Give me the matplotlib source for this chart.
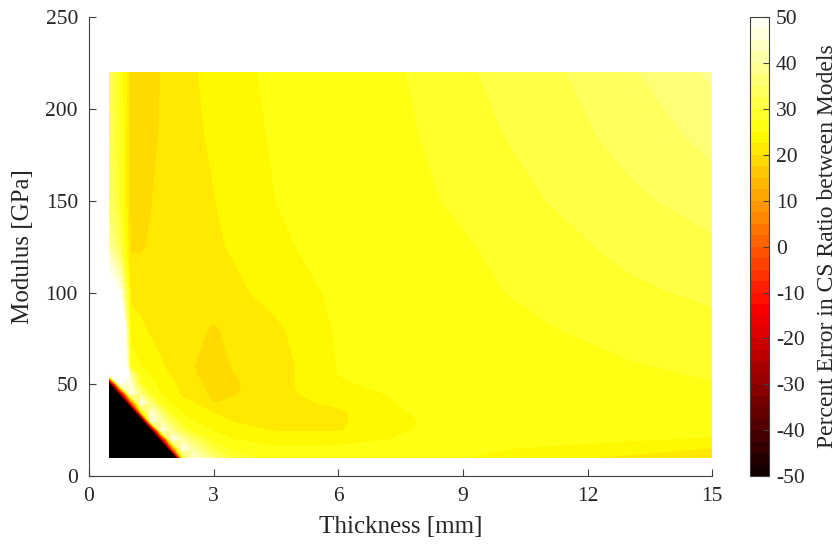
import numpy as np
import matplotlib.pyplot as plt
from matplotlib.colors import ListedColormap, Normalize
from matplotlib.cm import ScalarMappable

plt.rcParams['font.family'] = ['Liberation Serif', 'DejaVu Serif']
plt.rcParams['axes.unicode_minus'] = False

# thickness [mm] and modulus [GPa] sample points
thickness = [0.5, 0.75, 1, 1.25, 1.5, 1.75, 2, 2.25, 2.5, 3, 3.5, 4.5, 6, 7.5, 9, 11, 13, 15]
modulus = [10, 15, 20, 25, 30, 35, 40, 45, 50, 55, 60, 80, 100, 125, 150, 185, 220]

# percent error in CS ratio, one row per modulus value
err_10 = [-300, -300, -300, -300, -300, -300, -101, 26, 45, 36, 29, 26.25, 25.75, 25.5, 25.1, 23.2, 21.8, 20.5]
err_15 = [-300, -300, -300, -300, -300, -128, -1, 48, 40, 30, 26.25, 25.25, 25.25, 25.3, 25.25, 24.8, 23.8, 22.3]
err_20 = [-300, -300, -300, -300, -154, -28, 48, 40, 34, 26.5, 25, 24, 24.5, 25.1, 25.3, 25.5, 25.2, 24.6]
err_25 = [-300, -300, -300, -300, -54, 48, 38, 31, 26.5, 24.75, 23.5, 22.3, 22.3, 24.9, 25.4, 25.7, 25.85, 25.95]
err_30 = [-300, -300, -300, -80, 46, 40, 32, 26.5, 25, 23.5, 22.3, 21.9, 22, 24.8, 25.5, 25.85, 26.05, 26.3]
err_35 = [-300, -300, -107, 20, 45, 34, 26.5, 24.75, 23.7, 22.3, 21.2, 21.8, 22.1, 24.9, 25.6, 26, 26.2, 26.5]
err_40 = [-300, -134, -7, 48, 35, 26.5, 24.75, 23, 22.7, 19.9, 20.4, 21.6, 23, 25.1, 25.75, 26.1, 26.4, 26.75]
err_45 = [-160, -34, 48, 36, 26.5, 24.75, 23.3, 22.1, 21, 19.5, 19.8, 21.5, 24.3, 25.25, 25.85, 26.25, 26.6, 27]
err_50 = [-60, 48, 45, 28, 25.5, 24.3, 22.9, 21.8, 20.8, 19.1, 19.7, 21.5, 24.8, 25.4, 26, 26.4, 26.8, 27.3]
err_55 = [48, 90, 40, 26, 24.75, 23.3, 22.2, 21.2, 20.3, 18.8, 19.9, 21.4, 25, 25.5, 26.1, 26.55, 27, 27.7]
err_60 = [100, 85, 27, 25, 24, 22.7, 21.7, 20.8, 20.1, 18.7, 20.3, 21.3, 25.1, 25.6, 26.2, 26.7, 27.3, 28]
err_80 = [80, 70, 23.5, 23, 22, 21.7, 21.5, 21.2, 20.7, 19.7, 20.7, 22, 25.3, 25.85, 26.5, 27.3, 28.5, 29.2]
err_100 = [55, 48, 22, 21.5, 21.2, 21.3, 21.4, 21.5, 21.5, 21.6, 21.9, 23.5, 25.5, 26.1, 26.8, 28.2, 29.5, 30.5]
err_125 = [40, 32, 19.7, 19.7, 20.3, 21.0, 21.4, 21.6, 21.8, 22.1, 22.8, 24.65, 25.75, 26.4, 27.2, 29, 30.7, 32]
err_150 = [35, 28, 19.3, 18.7, 19.9, 20.8, 21.4, 21.7, 21.9, 22.4, 23.5, 25, 26, 26.6, 28, 30, 31.9, 33.7]
err_185 = [33, 27.5, 19.0, 18.5, 19.3, 20.3, 21.2, 21.8, 22.1, 22.8, 24.1, 25.25, 26.3, 26.9, 28.9, 31.1, 33.4, 35.8]
err_220 = [32, 27, 19.0, 18.5, 19.0, 20.1, 21.0, 21.7, 22.3, 23.1, 24.5, 25.4, 26.6, 27.3, 29.6, 31.8, 34.6, 38]

Z = np.array([err_10, err_15, err_20, err_25, err_30, err_35, err_40, err_45, err_50,
              err_55, err_60, err_80, err_100, err_125, err_150, err_185, err_220])
T, E = np.meshgrid(thickness, modulus)

levels = np.linspace(-50, 50, 41)
mids = (levels[:-1] + levels[1:]) / 2
cmap = ListedColormap(plt.cm.hot((mids + 50) / 100))
cmap.set_under('black')
cmap.set_over('white')
norm = Normalize(-50, 50)

fig = plt.figure(figsize=(8.4, 5.48), dpi=100)
ax = fig.add_axes([0.106, 0.131, 0.742, 0.838])
ax.contourf(T, E, Z, levels=levels, cmap=cmap, norm=norm, extend='both')

ax.set_xlim(0, 15)
ax.set_ylim(0, 250)
ax.set_xticks([0, 3, 6, 9, 12, 15])
ax.set_yticks([0, 50, 100, 150, 200, 250])
ax.set_xlabel('Thickness [mm]', fontsize=18, color='#262626', labelpad=7)
ax.set_ylabel('Modulus [GPa]', fontsize=18, color='#262626', labelpad=8)
for side in ['top', 'right']:
    ax.spines[side].set_visible(False)
for side in ['left', 'bottom']:
    ax.spines[side].set_color('#404040')
ax.tick_params(direction='in', length=5, pad=8, labelsize=15.5, colors='#404040', labelcolor='#262626')

cax = fig.add_axes([0.893, 0.131, 0.0226, 0.838])
cb = fig.colorbar(ScalarMappable(norm=norm, cmap=cmap), cax=cax)
cb.set_ticks(np.arange(-50, 51, 10))
cb.ax.tick_params(direction='in', length=4, pad=5, labelsize=15.5, colors='#404040', labelcolor='#262626')
cb.outline.set_edgecolor('#404040')
cb.set_label('Percent Error in CS Ratio between Models', fontsize=17, color='#262626', labelpad=9)

fig.savefig('out.png', dpi=100)
